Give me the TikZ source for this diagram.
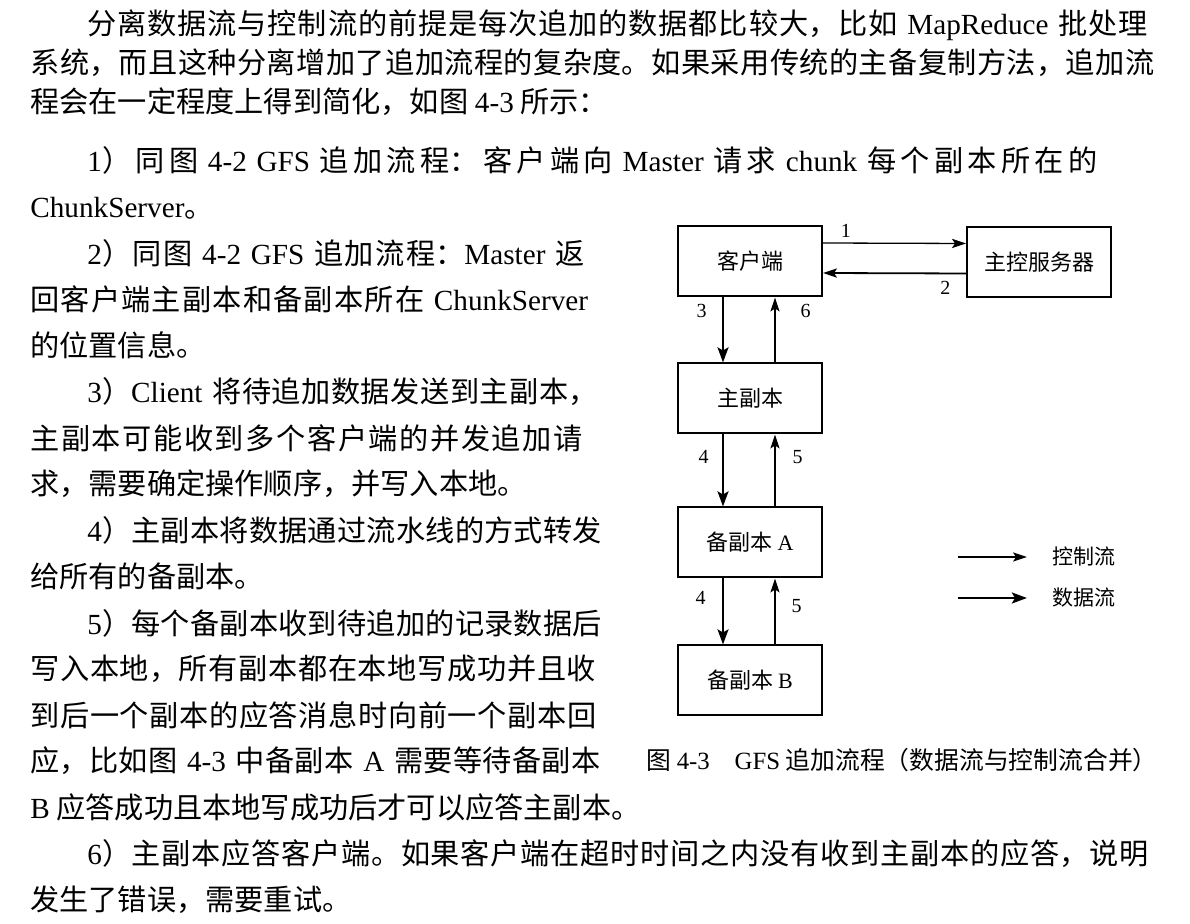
\documentclass[tikz,border=0pt]{standalone}
\usepackage{fontspec}
\setmainfont{Noto Sans CJK SC}
\newfontfamily\en{Liberation Serif}
\newcommand\EN[1]{{\en #1}}
\newcommand\jst[1]{\parfillskip=0pt\relax #1\par}
\XeTeXlinebreaklocale "zh"
\XeTeXlinebreakskip=0pt plus 2pt
\usetikzlibrary{arrows.meta}

\begin{document}
\begin{tikzpicture}[x=0.5pt,y=-0.5pt,
		txt/.style={inner sep=0pt,anchor=west,font=\fontsize{14.6pt}{18pt}\selectfont},
		jl/.style={txt,text width=#1},
		box/.style={draw,line width=1pt,minimum width=72pt,minimum height=35pt,font=\fontsize{11pt}{13pt}\selectfont},
		ctrl/.style={-{Stealth[length=7pt,width=4.6pt,inset=1.5pt]},line width=0.65pt},
		data/.style={-{Stealth[length=7.5pt,width=5.4pt,inset=1.5pt]},line width=1.35pt},
		num/.style={inner sep=0pt,font=\en\fontsize{10pt}{12pt}\selectfont},
		leg/.style={inner sep=0pt,anchor=west,font=\fontsize{10.5pt}{12pt}\selectfont}]
		\useasboundingbox[fill=white] (0,0) rectangle (1190,924);
		% body text
		\node[jl=536.5pt] (t1) at (87,25) {\jst{分离数据流与控制流的前提是每次追加的数据都比较大，比如 \EN{MapReduce} 批处理}};
		\node[jl=565pt] (t2) at (30,63) {\jst{系统，而且这种分离增加了追加流程的复杂度。如果采用传统的主备复制方法，追加流}};
		\node[txt] (t3) at (30,102) {程会在一定程度上得到简化，如图 \EN{4-3} 所示：};
		\node[jl=536.5pt] (t4) at (87,160) {\jst{\EN{1}）同图 \EN{4-2 GFS} 追加流程：客户端向 \EN{Master} 请求 \EN{chunk} 每个副本所在的}};
		\node[txt] (t5) at (30,208) {\EN{ChunkServer}。};
		\node[jl=259pt] (t6) at (87,253) {\jst{\EN{2}）同图 \EN{4-2 GFS} 追加流程：\EN{Master} 返}};
		\node[jl=287.5pt] (t7) at (30,299) {\jst{回客户端主副本和备副本所在 \EN{ChunkServer}}};
		\node[txt] (t8) at (30,345) {的位置信息。};
		\node[jl=259pt] (t9) at (87,392) {\jst{\EN{3}）\EN{Client} 将待追加数据发送到主副本，}};
		\node[jl=287.5pt] (t10) at (30,438) {\jst{主副本可能收到多个客户端的并发追加请}};
		\node[txt] (t11) at (30,484) {求，需要确定操作顺序，并写入本地。};
		\node[jl=259pt] (t12) at (87,530) {\jst{\EN{4}）主副本将数据通过流水线的方式转发}};
		\node[txt] (t13) at (30,576) {给所有的备副本。};
		\node[jl=259pt] (t14) at (87,623) {\jst{\EN{5}）每个备副本收到待追加的记录数据后}};
		\node[jl=287.5pt] (t15) at (30,669) {\jst{写入本地，所有副本都在本地写成功并且收}};
		\node[jl=287.5pt] (t16) at (30,715) {\jst{到后一个副本的应答消息时向前一个副本回}};
		\node[jl=287.5pt] (t17) at (30,761) {\jst{应，比如图 \EN{4-3} 中备副本 \EN{A} 需要等待备副本}};
		\node[txt] (t18) at (30,807) {\EN{B} 应答成功且本地写成功后才可以应答主副本。};
		\node[jl=536.5pt] (t19) at (87,854) {\jst{\EN{6}）主副本应答客户端。如果客户端在超时时间之内没有收到主副本的应答，说明}};
		\node[txt] (t20) at (30,900) {发生了错误，需要重试。};
		% figure 4-3
		\node[box] (client) at (750,261.5) {客户端};
		\node[box] (master) at (1039,262) {主控服务器};
		\node[box] (primary) at (750,398.5) {主副本};
		\node[box] (secA) at (750,542.5) {备副本 \EN{A}};
		\node[box] (secB) at (750,680.5) {备副本 \EN{B}};
		\path[ctrl]
		([yshift=9.25pt]client.east) edge node[num,above=2.5pt,pos=.16] {1} ([yshift=9.25pt]master.west);
		\path[ctrl,line width=0.9pt]
		([yshift=-5.75pt]master.west) edge node[num,below=3.5pt,pos=.145] {2} ([yshift=-5.75pt]client.east);
		\path[data]
		([xshift=-13.5pt]client.south) edge node[num,left=7.5pt,pos=.21] {3} ([xshift=-13.5pt]primary.north)
		([xshift=-13.5pt]primary.south) edge node[num,left=6.5pt,pos=.31] {4} ([xshift=-13.5pt]secA.north)
		([xshift=-13.5pt]secA.south) edge node[num,left=8pt,pos=.29] {4} ([xshift=-13.5pt]secB.north);
		\path[ctrl]
		([xshift=12.5pt]primary.north) edge node[num,right=12.5pt,pos=.79] {6} ([xshift=12.5pt]client.south)
		([xshift=12.5pt]secA.north) edge node[num,right=8.5pt,pos=.69] {5} ([xshift=12.5pt]primary.south)
		([xshift=12.5pt]secB.north) edge node[num,right=8pt,pos=.59] {5} ([xshift=12.5pt]secA.south);
		% legend
		\node[leg] (ctrlkey) at (1052,557) {控制流};
		\node[leg] (datakey) at (1052,598) {数据流};
		\coordinate (ck) at (958,557);
		\coordinate (dk) at (958,598);
		\path[ctrl] (ck) edge ([xshift=-12.5pt]ctrlkey.west);
		\path[data] (dk) edge ([xshift=-12.5pt]datakey.west);
		% caption
		\node[inner sep=0pt,anchor=west,font=\fontsize{12.4pt}{14pt}\selectfont] (cap) at (646,760) {图 \EN{4-3}\hspace{1em}\EN{GFS} 追加流程（数据流与控制流合并）};
	\end{tikzpicture}
\end{document}
